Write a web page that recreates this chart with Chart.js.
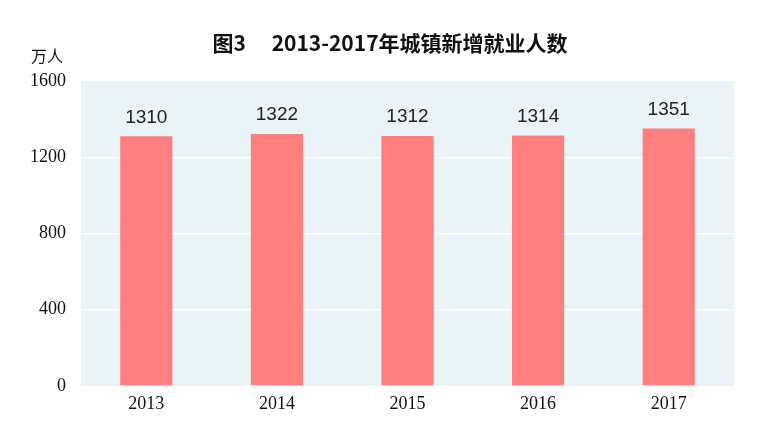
<!DOCTYPE html>
<html>
<head>
<meta charset="utf-8">
<script src="https://cdn.jsdelivr.net/npm/chart.js@4/dist/chart.umd.min.js"></script>
<style>
  html, body { margin: 0; padding: 0; background: #fff; }
  #wrap { width: 760px; height: 430px; position: relative; }
</style>
</head>
<body>
<div id="wrap"><canvas id="jobsChart" width="760" height="430"></canvas></div>
<script>
// chart data
const years = ['2013', '2014', '2015', '2016', '2017'];
const newJobs = [1310, 1322, 1312, 1314, 1351];
const yTicks = [0, 400, 800, 1200, 1600];
const titleText = '图3\u3000 2013-2017年城镇新增就业人数';
const unitText = '万人';

// plot background + title + unit + value labels
const decor = {
    id: 'decor',
    beforeDraw(chart) {
        const { ctx, chartArea: a } = chart;
        ctx.save();
        ctx.fillStyle = '#eaf4f8';
        ctx.fillRect(a.left, a.top, a.right - a.left, a.bottom - a.top);
        ctx.restore();
    },
    afterDatasetsDraw(chart) {
        const ctx = chart.ctx;
        ctx.save();
        ctx.fillStyle = '#111';
        ctx.textAlign = 'center';
        ctx.textBaseline = 'middle';
        ctx.font = 'bold 21px "Noto Sans CJK SC", sans-serif';
        ctx.fillText(titleText, 390, 43);
        ctx.font = '16px "Noto Sans CJK SC", sans-serif';
        ctx.fillText(unitText, 47, 56);
        ctx.fillStyle = '#222';
        ctx.font = '19px "Liberation Sans", Arial, sans-serif';
        const meta = chart.getDatasetMeta(0);
        meta.data.forEach((bar, i) => {
            ctx.fillText(String(newJobs[i]), bar.x, bar.y - 19);
        });
        ctx.restore();
    }
};

const ctx = document.getElementById('jobsChart').getContext('2d');
const chart = new Chart(ctx, {
    type: 'bar',
    data: {
        labels: years,
        datasets: [{
            data: newJobs,
            backgroundColor: '#ff7f7f',
            borderWidth: 0,
            categoryPercentage: 1,
            barPercentage: 0.4
        }]
    },
    options: {
        responsive: false,
        animation: false,
        layout: { padding: { top: 81, right: 26, bottom: 0, left: 0 } },
        plugins: { legend: { display: false }, tooltip: { enabled: false } },
        scales: {
            x: {
                grid: { display: false, drawTicks: false },
                border: { display: false },
                ticks: {
                    color: '#111',
                    padding: 7,
                    font: { family: '"Liberation Serif", "DejaVu Serif", serif', size: 18 }
                },
                afterFit: s => { s.height = 44; }
            },
            y: {
                min: 0,
                max: 1600,
                afterBuildTicks: s => { s.ticks = yTicks.map(v => ({ value: v })); },
                grid: {
                    color: ctx => (ctx.tick && (ctx.tick.value === 0 || ctx.tick.value === 1600)) ? 'rgba(0,0,0,0)' : '#ffffff',
                    lineWidth: 1.5,
                    drawTicks: false
                },
                border: { display: false },
                ticks: {
                    color: '#111',
                    padding: 15,
                    callback: v => String(v),
                    font: { family: '"Liberation Serif", "DejaVu Serif", serif', size: 18 }
                },
                afterFit: s => { s.width = 81; }
            }
        }
    },
    plugins: [decor]
});
</script>
</body>
</html>
